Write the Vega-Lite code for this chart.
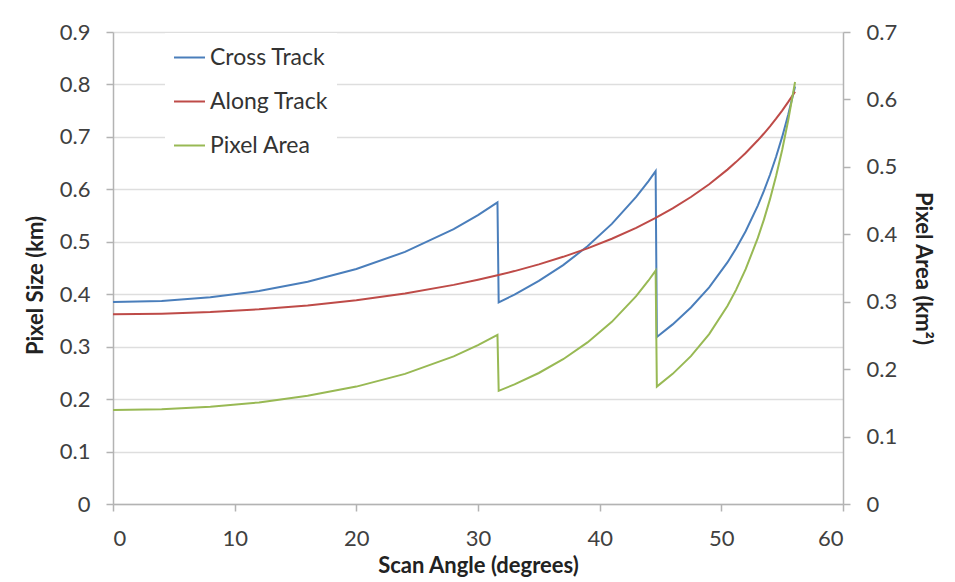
{
  "$schema": "https://vega.github.io/schema/vega-lite/v6.json",
  "width": 730,
  "height": 472,
  "autosize": {"type": "none"},
  "padding": {"left": 113, "top": 32, "right": 112, "bottom": 78},
  "background": "white",
  "config": {
    "view": {"stroke": null},
    "font": "Lato",
    "axis": {
      "labelFont": "Lato",
      "labelFontSize": 22,
      "labelColor": "#404040",
      "titleFont": "Lato",
      "titleFontSize": 22,
      "titleFontWeight": "bold",
      "titleColor": "#222222",
      "domainColor": "#b3b3b3",
      "domainWidth": 1.5,
      "tickColor": "#b3b3b3",
      "tickWidth": 1.5,
      "tickSize": 7,
      "gridColor": "#dedede",
      "gridWidth": 1.5
    }
  },
  "datasets": {
    "size": [
      {"angle": 0, "series": "Cross Track", "value": 0.385},
      {"angle": 4, "series": "Cross Track", "value": 0.3873},
      {"angle": 8, "series": "Cross Track", "value": 0.3942},
      {"angle": 12, "series": "Cross Track", "value": 0.4061},
      {"angle": 16, "series": "Cross Track", "value": 0.4237},
      {"angle": 20, "series": "Cross Track", "value": 0.448},
      {"angle": 24, "series": "Cross Track", "value": 0.4807},
      {"angle": 28, "series": "Cross Track", "value": 0.524},
      {"angle": 30, "series": "Cross Track", "value": 0.5508},
      {"angle": 31.6, "series": "Cross Track", "value": 0.5752},
      {"angle": 31.7, "series": "Cross Track", "value": 0.3845},
      {"angle": 33, "series": "Cross Track", "value": 0.3994},
      {"angle": 35, "series": "Cross Track", "value": 0.4253},
      {"angle": 37, "series": "Cross Track", "value": 0.4556},
      {"angle": 39, "series": "Cross Track", "value": 0.4914},
      {"angle": 41, "series": "Cross Track", "value": 0.5341},
      {"angle": 43, "series": "Cross Track", "value": 0.5855},
      {"angle": 44, "series": "Cross Track", "value": 0.6153},
      {"angle": 44.6, "series": "Cross Track", "value": 0.6347},
      {"angle": 44.7, "series": "Cross Track", "value": 0.3185},
      {"angle": 46, "series": "Cross Track", "value": 0.3425},
      {"angle": 47.5, "series": "Cross Track", "value": 0.3746},
      {"angle": 49, "series": "Cross Track", "value": 0.4132},
      {"angle": 50.5, "series": "Cross Track", "value": 0.4606},
      {"angle": 51.2, "series": "Cross Track", "value": 0.4866},
      {"angle": 52, "series": "Cross Track", "value": 0.5201},
      {"angle": 53, "series": "Cross Track", "value": 0.569},
      {"angle": 53.5, "series": "Cross Track", "value": 0.597},
      {"angle": 54, "series": "Cross Track", "value": 0.6278},
      {"angle": 54.5, "series": "Cross Track", "value": 0.662},
      {"angle": 55, "series": "Cross Track", "value": 0.7},
      {"angle": 55.5, "series": "Cross Track", "value": 0.7428},
      {"angle": 56.06, "series": "Cross Track", "value": 0.7962},
      {"angle": 0, "series": "Along Track", "value": 0.362},
      {"angle": 4, "series": "Along Track", "value": 0.363},
      {"angle": 8, "series": "Along Track", "value": 0.366},
      {"angle": 12, "series": "Along Track", "value": 0.3712},
      {"angle": 16, "series": "Along Track", "value": 0.3786},
      {"angle": 20, "series": "Along Track", "value": 0.3886},
      {"angle": 24, "series": "Along Track", "value": 0.4015},
      {"angle": 28, "series": "Along Track", "value": 0.4178},
      {"angle": 30, "series": "Along Track", "value": 0.4275},
      {"angle": 31.6, "series": "Along Track", "value": 0.436},
      {"angle": 33, "series": "Along Track", "value": 0.4441},
      {"angle": 35, "series": "Along Track", "value": 0.4569},
      {"angle": 37, "series": "Along Track", "value": 0.4713},
      {"angle": 39, "series": "Along Track", "value": 0.4875},
      {"angle": 41, "series": "Along Track", "value": 0.5058},
      {"angle": 43, "series": "Along Track", "value": 0.5266},
      {"angle": 44.6, "series": "Along Track", "value": 0.5454},
      {"angle": 46, "series": "Along Track", "value": 0.5636},
      {"angle": 47.5, "series": "Along Track", "value": 0.5854},
      {"angle": 49, "series": "Along Track", "value": 0.6098},
      {"angle": 50.5, "series": "Along Track", "value": 0.6376},
      {"angle": 51.2, "series": "Along Track", "value": 0.6519},
      {"angle": 52, "series": "Along Track", "value": 0.6694},
      {"angle": 53, "series": "Along Track", "value": 0.6935},
      {"angle": 53.5, "series": "Along Track", "value": 0.7064},
      {"angle": 54, "series": "Along Track", "value": 0.7202},
      {"angle": 54.5, "series": "Along Track", "value": 0.7347},
      {"angle": 55, "series": "Along Track", "value": 0.7502},
      {"angle": 55.5, "series": "Along Track", "value": 0.7667},
      {"angle": 56.06, "series": "Along Track", "value": 0.7861}
    ],
    "area": [
      {"angle": 0, "series": "Pixel Area", "value": 0.1394},
      {"angle": 4, "series": "Pixel Area", "value": 0.1406},
      {"angle": 8, "series": "Pixel Area", "value": 0.1443},
      {"angle": 12, "series": "Pixel Area", "value": 0.1507},
      {"angle": 16, "series": "Pixel Area", "value": 0.1604},
      {"angle": 20, "series": "Pixel Area", "value": 0.1741},
      {"angle": 24, "series": "Pixel Area", "value": 0.193},
      {"angle": 28, "series": "Pixel Area", "value": 0.2189},
      {"angle": 30, "series": "Pixel Area", "value": 0.2355},
      {"angle": 31.6, "series": "Pixel Area", "value": 0.2508},
      {"angle": 31.7, "series": "Pixel Area", "value": 0.1678},
      {"angle": 33, "series": "Pixel Area", "value": 0.1774},
      {"angle": 35, "series": "Pixel Area", "value": 0.1943},
      {"angle": 37, "series": "Pixel Area", "value": 0.2147},
      {"angle": 39, "series": "Pixel Area", "value": 0.2396},
      {"angle": 41, "series": "Pixel Area", "value": 0.2701},
      {"angle": 43, "series": "Pixel Area", "value": 0.3083},
      {"angle": 44, "series": "Pixel Area", "value": 0.3311},
      {"angle": 44.6, "series": "Pixel Area", "value": 0.3462},
      {"angle": 44.7, "series": "Pixel Area", "value": 0.1741},
      {"angle": 46, "series": "Pixel Area", "value": 0.193},
      {"angle": 47.5, "series": "Pixel Area", "value": 0.2193},
      {"angle": 49, "series": "Pixel Area", "value": 0.252},
      {"angle": 50.5, "series": "Pixel Area", "value": 0.2937},
      {"angle": 51.2, "series": "Pixel Area", "value": 0.3172},
      {"angle": 52, "series": "Pixel Area", "value": 0.3482},
      {"angle": 53, "series": "Pixel Area", "value": 0.3946},
      {"angle": 53.5, "series": "Pixel Area", "value": 0.4217},
      {"angle": 54, "series": "Pixel Area", "value": 0.4521},
      {"angle": 54.5, "series": "Pixel Area", "value": 0.4864},
      {"angle": 55, "series": "Pixel Area", "value": 0.5251},
      {"angle": 55.5, "series": "Pixel Area", "value": 0.5695},
      {"angle": 56.06, "series": "Pixel Area", "value": 0.6259}
    ]
  },
  "layer": [
    {
      "data": {"name": "size"},
      "mark": {"type": "line", "strokeWidth": 2},
      "encoding": {
        "x": {
          "field": "angle",
          "type": "quantitative",
          "scale": {"domain": [0, 60], "nice": false},
          "axis": {
            "values": [0, 10, 20, 30, 40, 50, 60],
            "grid": false,
            "labelPadding": 17,
            "title": "Scan Angle (degrees)",
            "titlePadding": 6
          }
        },
        "y": {
          "field": "value",
          "type": "quantitative",
          "scale": {"domain": [0, 0.9], "nice": false},
          "axis": {
            "values": [0, 0.1, 0.2, 0.3, 0.4, 0.5, 0.6, 0.7, 0.8, 0.9],
            "format": "~g",
            "grid": true,
            "labelPadding": 16,
            "title": "Pixel Size (km)",
            "titlePadding": 12,
            "titleY": 253
          }
        },
        "color": {
          "field": "series",
          "type": "nominal",
          "scale": {
            "domain": ["Cross Track", "Along Track", "Pixel Area"],
            "range": ["#4A7EBB", "#BE4B48", "#98B954"]
          },
          "legend": {
            "title": null,
            "orient": "none",
            "legendX": 52,
            "legendY": 1,
            "fillColor": "white",
            "padding": 8,
            "symbolType": "stroke",
            "symbolSize": 961,
            "symbolStrokeWidth": 2,
            "labelFont": "Lato",
            "labelFontSize": 23,
            "labelColor": "#333333",
            "labelOffset": 4,
            "rowPadding": 15
          }
        }
      }
    },
    {
      "data": {"name": "area"},
      "mark": {"type": "line", "strokeWidth": 2},
      "encoding": {
        "x": {"field": "angle", "type": "quantitative"},
        "y": {
          "field": "value",
          "type": "quantitative",
          "scale": {"domain": [0, 0.7], "nice": false},
          "axis": {
            "orient": "right",
            "values": [0, 0.1, 0.2, 0.3, 0.4, 0.5, 0.6, 0.7],
            "format": "~g",
            "grid": false,
            "labelPadding": 16,
            "title": "Pixel Area (km²)",
            "titlePadding": 14
          }
        },
        "color": {"field": "series", "type": "nominal"}
      }
    }
  ],
  "resolve": {"scale": {"y": "independent"}}
}
